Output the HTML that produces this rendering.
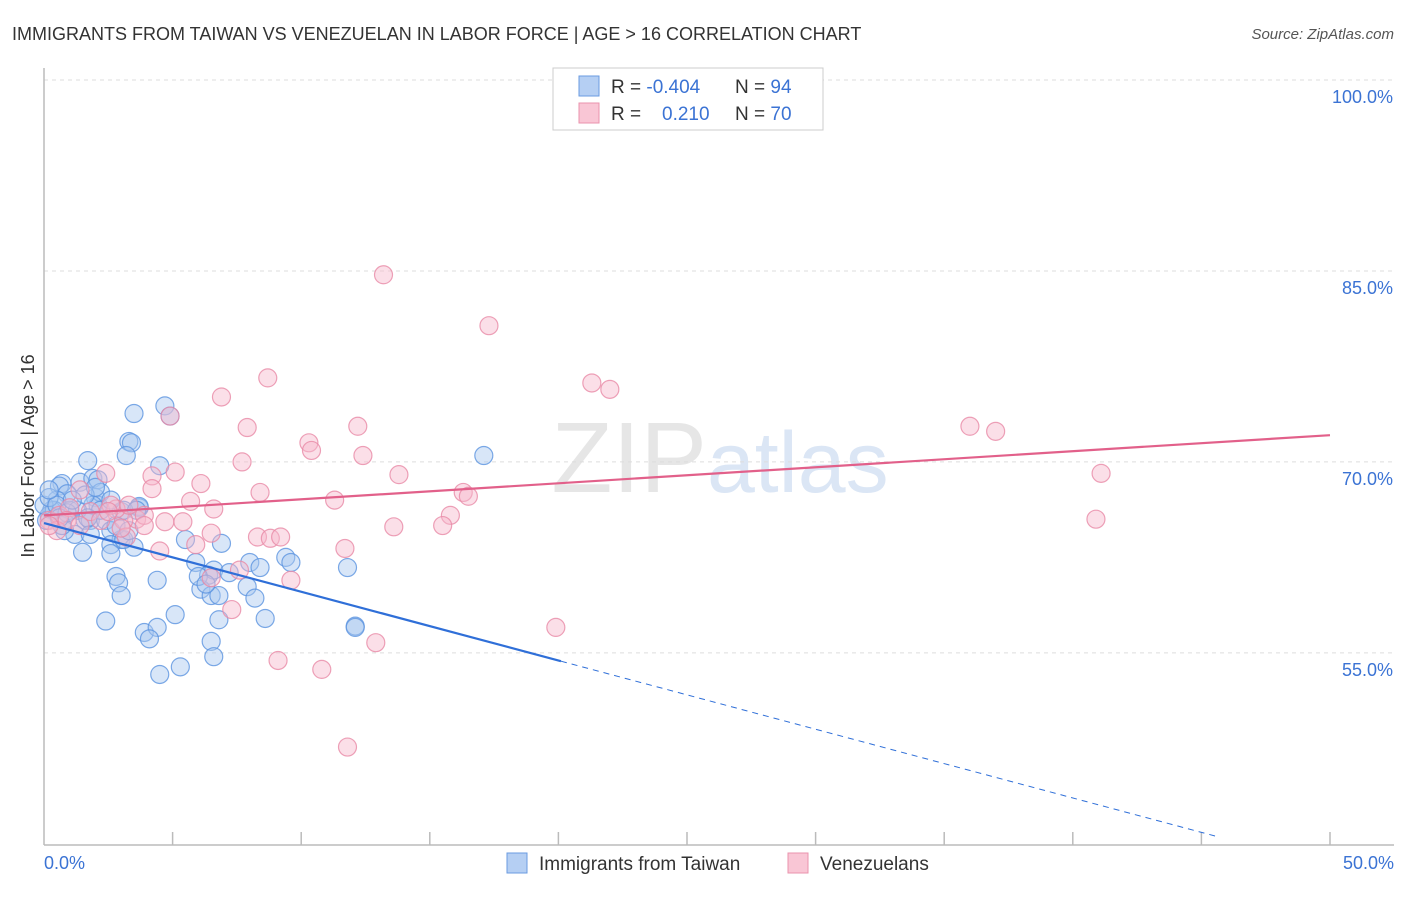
<!DOCTYPE html>
<html><head><meta charset="utf-8"><style>
body{margin:0;background:#fff;font-family:"Liberation Sans",sans-serif;}
svg text{font-family:"Liberation Sans",sans-serif;}
</style></head><body>
<svg width="1406" height="892" xmlns="http://www.w3.org/2000/svg">
<text x="12" y="40" font-size="18" fill="#333">IMMIGRANTS FROM TAIWAN VS VENEZUELAN IN LABOR FORCE | AGE &gt; 16 CORRELATION CHART</text>
<text x="1394" y="39" font-size="15" fill="#555" font-style="italic" text-anchor="end">Source: ZipAtlas.com</text>
<text x="720" y="492" font-size="100" fill="#e6e6e6" font-family="Liberation Serif" text-anchor="middle">ZIP<tspan fill="#dbe6f5" font-family="Liberation Sans" font-size="86">atlas</tspan></text>
<g id="grid"></g>
<g id="axes"></g>
<g id="pts"></g>
<g id="trend"></g>
<text transform="translate(34,456) rotate(-90)" font-size="18" fill="#333" text-anchor="middle">In Labor Force | Age &gt; 16</text>
<text x="44" y="869" font-size="18" fill="#3b73d4">0.0%</text>
<text x="1394" y="869" font-size="18" fill="#3b73d4" text-anchor="end">50.0%</text>
<g>
<rect x="553" y="68" width="270" height="62" fill="#fff" stroke="#ccc"/>
<rect x="579" y="76" width="20" height="20" fill="#b5cff3" stroke="#6a9be0"/>
<rect x="579" y="103" width="20" height="20" fill="#f9c6d5" stroke="#ea93ad"/>
<text x="611" y="93" font-size="19" fill="#333">R = <tspan fill="#3b73d4">-0.404</tspan><tspan x="735">N = </tspan><tspan fill="#3b73d4">94</tspan></text>
<text x="611" y="120" font-size="19" fill="#333">R = <tspan x="662" fill="#3b73d4">0.210</tspan><tspan x="735">N = </tspan><tspan fill="#3b73d4">70</tspan></text>
</g>
<g>
<rect x="507" y="853" width="20" height="20" fill="#b5cff3" stroke="#6a9be0"/>
<text x="539" y="870" font-size="19" fill="#333">Immigrants from Taiwan</text>
<rect x="788" y="853" width="20" height="20" fill="#f9c6d5" stroke="#ea93ad"/>
<text x="820" y="870" font-size="19" fill="#333">Venezuelans</text>
</g>
</svg>
<script>
const yTicks=[100,85,70,55];
const yTickLabels=["100.0%","85.0%","70.0%","55.0%"];
const xTicks=[5,10,15,20,25,30,35,40,45,50];
const blueX=[3.5,4.7,4.9,3.3,3.4,3.2,4.5,1.7,17.1,0.7,0.6,1.4,1.9,2.1,0.9,2.0,2.1,0.5,0.3,0.2,1.0,1.6,1.8,2.4,3.0,3.7,3.7,3.1,0.1,1.2,1.8,2.6,3.0,2.6,3.5,3.1,1.5,2.6,5.5,6.9,5.9,8.0,8.4,9.4,9.6,11.8,2.8,2.9,4.4,6.4,6.6,7.2,7.9,6.1,6.5,6.8,8.2,3.0,2.4,5.1,6.8,8.6,12.1,12.1,3.9,4.4,4.1,6.5,6.6,5.3,4.5,0.8,0.4,0.0,0.7,2.2,2.8,1.9,1.3,0.2,0.5,0.9,1.6,3.3,6.0,6.3,3.6,2.2,2.6,1.1,1.7,0.6,0.2,2.0];
const blueY=[73.8,74.4,73.6,71.6,71.5,70.5,69.7,70.1,70.5,68.3,68.1,68.4,68.7,68.6,67.5,67.2,66.6,67.0,66.2,65.8,66.2,65.4,65.4,65.4,66.1,66.4,66.5,66.2,65.4,64.3,64.3,64.6,63.9,63.5,63.3,63.9,62.9,62.8,63.9,63.6,62.1,62.1,61.7,62.5,62.1,61.7,61.0,60.5,60.7,61.1,61.5,61.3,60.2,60.0,59.5,59.5,59.3,59.5,57.5,58.0,57.6,57.7,57.1,57.0,56.6,57.0,56.1,55.9,54.7,53.9,53.3,64.6,66.2,66.6,65.0,67.6,65.0,66.6,66.2,67.2,66.6,66.0,67.4,64.6,61.0,60.4,66.2,66.2,67.0,67.0,65.6,65.6,67.8,68.0];
const pinkX=[13.2,17.3,21.3,22.0,8.7,6.9,4.9,7.9,12.2,10.3,10.4,12.4,7.7,13.8,36.0,37.0,41.1,40.9,4.2,5.1,6.1,4.2,5.7,8.4,11.3,16.3,16.5,2.4,1.4,6.6,4.7,5.4,3.6,3.1,3.9,2.8,3.3,15.8,15.5,13.6,6.5,5.9,8.3,8.8,9.2,4.5,11.7,3.2,7.6,6.5,9.6,7.3,12.9,19.9,9.1,10.8,11.8,0.2,0.6,1.0,0.5,1.8,0.9,2.6,2.2,1.4,3.0,3.9,2.5,0.2];
const pinkY=[84.7,80.7,76.2,75.7,76.6,75.1,73.6,72.7,72.8,71.5,70.9,70.5,70.0,69.0,72.8,72.4,69.1,65.5,68.9,69.2,68.3,67.9,66.9,67.6,67.0,67.6,67.3,69.1,67.8,66.3,65.3,65.3,65.5,65.4,65.8,66.3,66.6,65.8,65.0,64.9,64.4,63.5,64.1,64.0,64.1,63.0,63.2,64.1,61.5,60.9,60.7,58.4,55.8,57.0,54.4,53.7,47.6,65.4,65.8,66.4,64.6,66.1,65.4,66.6,65.4,65.0,64.8,65.0,66.1,65.0];
const blueTrend=[65.2,-0.54];
const pinkTrend=[65.8,0.126];
const NS="http://www.w3.org/2000/svg";
const X=v=>44+v*25.72, Y=v=>80+(100-v)*12.73;
function mk(tag,attrs,parent){const e=document.createElementNS(NS,tag);for(const k in attrs)e.setAttribute(k,attrs[k]);parent.appendChild(e);return e;}
const grid=document.getElementById('grid'),axes=document.getElementById('axes'),pts=document.getElementById('pts'),trend=document.getElementById('trend');
yTicks.forEach((t,i)=>{
 const l=mk('line',{x1:44,x2:1394,y1:Y(t),y2:Y(t),stroke:'#ddd','stroke-dasharray':'4,4'},grid);
 
 
 const tx=mk('text',{x:1393,y:Y(t)+23,'font-size':18,fill:'#3b73d4','text-anchor':'end'},grid);
 tx.textContent=yTickLabels[i];
 
 
});
const ya=mk('line',{x1:44,x2:44,y1:68,y2:845,stroke:'#bbb','stroke-width':1.5},axes);


const xa=mk('line',{x1:44,x2:1394,y1:845,y2:845,stroke:'#bbb','stroke-width':1.5},axes);


xTicks.forEach(t=>{
 const l=mk('line',{x1:X(t),x2:X(t),y1:832,y2:845,stroke:'#bbb','stroke-width':1.5},axes);
 
 
});
function dots(xs,ys,fill,stroke,name){xs.forEach((x,i)=>{
 const c=mk('circle',{cx:X(x),cy:Y(ys[i]),r:9,fill:fill,'fill-opacity':0.45,stroke:stroke,'stroke-opacity':0.8,'stroke-width':1.2},pts);
 
 
});}
dots(blueX,blueY,'#a9c8f0','#5b93e0','taiwan-point');
dots(pinkX,pinkY,'#f7b8cb','#e88aa6','venezuelan-point');
const bx1=20.1,bx2=45.7;
const b1=mk('line',{x1:X(0),y1:Y(blueTrend[0]),x2:X(bx1),y2:Y(blueTrend[0]+blueTrend[1]*bx1),stroke:'#2f6fd8','stroke-width':2.2},trend);


const b2=mk('line',{x1:X(bx1),y1:Y(blueTrend[0]+blueTrend[1]*bx1),x2:X(bx2),y2:Y(blueTrend[0]+blueTrend[1]*bx2),stroke:'#2f6fd8','stroke-width':1,'stroke-dasharray':'6,5'},trend);


const p1=mk('line',{x1:X(0),y1:Y(pinkTrend[0]),x2:X(50),y2:Y(pinkTrend[0]+pinkTrend[1]*50),stroke:'#e2608a','stroke-width':2.2},trend);


</script>
</body></html>
